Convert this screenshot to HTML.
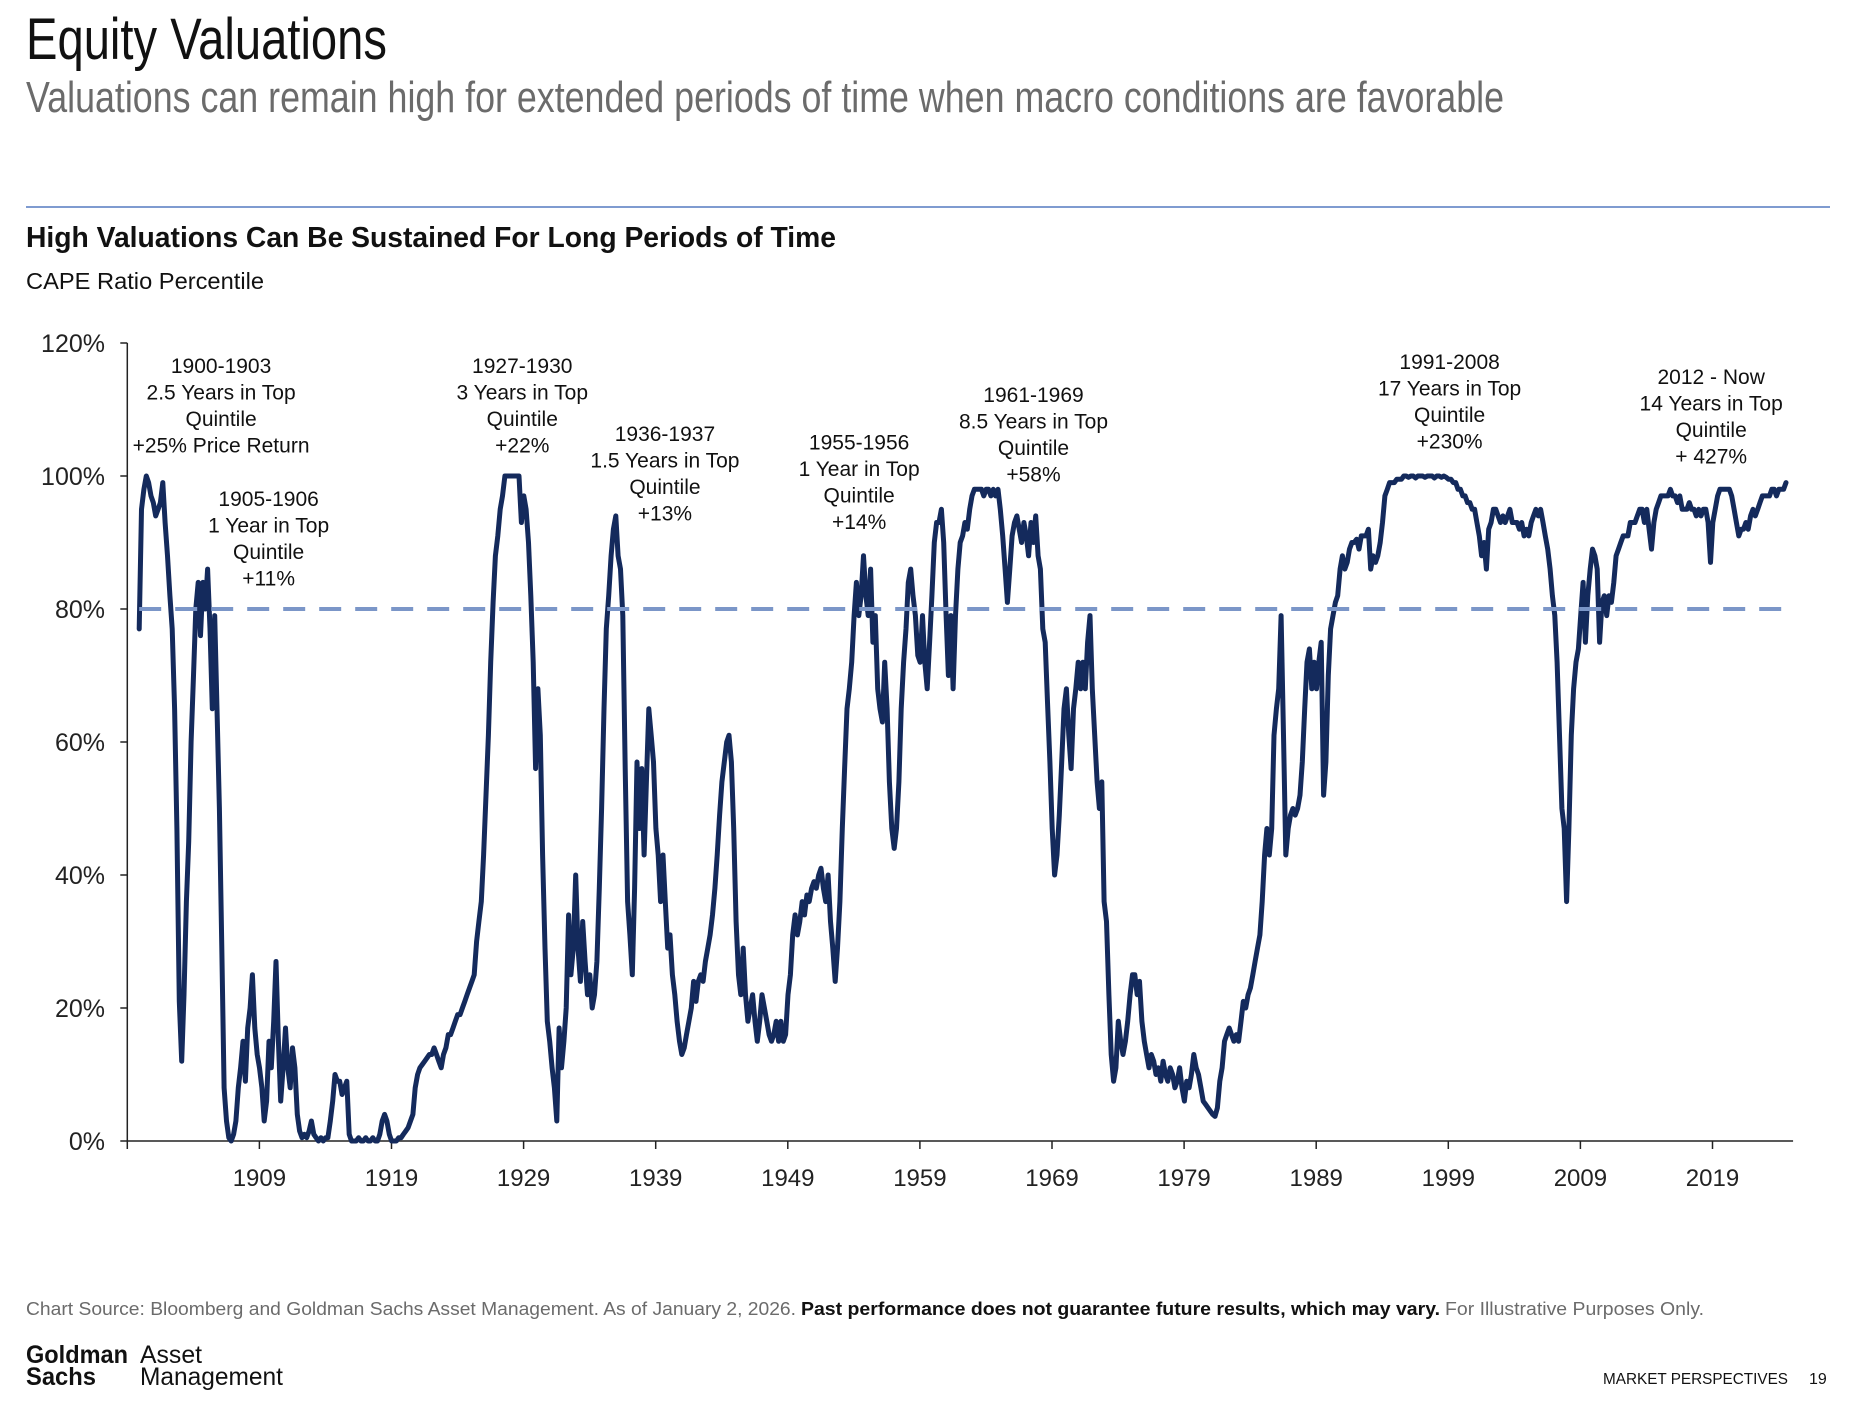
<!DOCTYPE html>
<html><head><meta charset="utf-8"><style>
html,body{margin:0;padding:0;background:#fff;width:1854px;height:1408px;overflow:hidden}
svg text{font-family:"Liberation Sans",sans-serif}
</style></head><body>
<svg id="page" width="1854" height="1408" viewBox="0 0 1854 1408" xmlns="http://www.w3.org/2000/svg">
<text x="26" y="59" font-size="58" fill="#111" textLength="361" lengthAdjust="spacingAndGlyphs">Equity Valuations</text>
<text x="26" y="112" font-size="44" fill="#6b6b6b" textLength="1478" lengthAdjust="spacingAndGlyphs">Valuations can remain high for extended periods of time when macro conditions are favorable</text>
<line x1="26" y1="207" x2="1830" y2="207" stroke="#7f9bd0" stroke-width="2"/>
<text x="26" y="247" font-size="29" font-weight="bold" fill="#111" textLength="810" lengthAdjust="spacingAndGlyphs">High Valuations Can Be Sustained For Long Periods of Time</text>
<text x="26" y="289" font-size="23" fill="#111" textLength="238" lengthAdjust="spacingAndGlyphs">CAPE Ratio Percentile</text>
<g id="chart"></g>
<g id="notes"></g>
<text x="26" y="1315" font-size="18" fill="#6b6b6b" textLength="770" lengthAdjust="spacingAndGlyphs">Chart Source: Bloomberg and Goldman Sachs Asset Management. As of January 2, 2026.</text>
<text x="801" y="1315" font-size="18" font-weight="bold" fill="#111" textLength="639" lengthAdjust="spacingAndGlyphs">Past performance does not guarantee future results, which may vary.</text>
<text x="1445" y="1315" font-size="18" fill="#6b6b6b" textLength="259" lengthAdjust="spacingAndGlyphs">For Illustrative Purposes Only.</text>
<g font-family="Liberation Serif, serif" fill="#111">
<text x="26" y="1363" font-size="25" font-weight="bold" font-family="Liberation Serif, serif" textLength="102" lengthAdjust="spacingAndGlyphs">Goldman</text>
<text x="26" y="1385" font-size="25" font-weight="bold" font-family="Liberation Serif, serif" textLength="70" lengthAdjust="spacingAndGlyphs">Sachs</text>
<text x="140" y="1363" font-size="25" font-family="Liberation Serif, serif" textLength="62" lengthAdjust="spacingAndGlyphs">Asset</text>
<text x="140" y="1385" font-size="25" font-family="Liberation Serif, serif" textLength="143" lengthAdjust="spacingAndGlyphs">Management</text>
</g>
<text x="1603" y="1384" font-size="16" fill="#111" textLength="185" lengthAdjust="spacingAndGlyphs">MARKET PERSPECTIVES</text>
<text x="1809" y="1384" font-size="16" fill="#111">19</text>
</svg>
<script>
const startYear = 1899.9;
const stepYears = 0.1786;
const values = [77,95,98,100,99,97,96,94,95,96,99,93,88,82,77,65,47,21,12,22,36,45,60,70,80,84,76,84,80,86,77,65,79,65,50,29,8,3,0.5,0,1,3,8,11,15,9,17,20,25,17,13,11,8,3,6,15,11,18,27,15,6,11,17,11,8,14,11,4,1.5,0.5,1,0.5,1.5,3,1,0.5,0,0.5,0,0.5,0.5,3,6,10,9,9,7,8,9,1,0,0,0,0.5,0,0,0.5,0,0,0.5,0,0,1,3,4,3,1,0,0,0,0.5,0.5,1,1.5,2,3,4,8,10,11,11.5,12,12.5,13,13,14,13,12,11,13,14,16,16,17,18,19,19,20,21,22,23,24,25,30,33,36,43,52,61,72,81,88,91,95,97,100,100,100,100,100,100,100,93,97,95,90,82,72,56,68,61,43,29,18,15,11,8,3,17,11,15,20,34,25,29,40,29,24,33,27,22,25,20,22,27,38,50,65,77,82,88,92,94,88,86,79,56,36,31,25,38,57,47,56,43,54,65,61,57,47,43,36,43,36,29,31,25,22,18,15,13,14,16,18,20,24,21,24,25,24,27,29,31,34,38,43,49,54,57,60,61,57,47,33,25,22,29,22,18,20,22,18,15,18,22,20,18,16,15,16,18,15,18,15,16,22,25,31,34,31,33,36,34,37,36,38,39,38,40,41,38,36,40,33,29,24,29,36,47,56,65,68,72,79,84,79,82,88,82,79,86,75,79,68,65,63,72,65,54,47,44,47,54,65,72,77,84,86,82,79,73,72,79,72,68,75,82,90,93,93,95,90,79,70,79,68,79,86,90,91,93,92,95,97,98,98,98,98,97,98,98,97,98,97,98,95,91,86,81,86,91,93,94,92,90,93,91,88,93,90,94,88,86,77,75,66,57,47,40,43,49,57,65,68,61,56,65,68,72,68,72,68,75,79,68,61,54,50,54,36,33,22,13,9,11,18,15,13,15,18,22,25,25,22,24,18,15,13,11,13,12,10,11,9,12,10,9,11,10,8,9,11,8,6,9,8,10,13,11,10,8,6,5.5,5,4.5,4,3.7,5,9,11,15,16,17,16,15,16,15,18,21,20,22,23,25,27,29,31,36,43,47,43,47,61,65,68,79,61,43,47,49,50,49,50,52,57,65,72,74,68,72,68,72,75,52,57,70,77,79,81,82,86,88,86,87,89,90,90,90.5,89,91,91,91,92,86,88,87,88,90,93,97,98,99,99,99,99.5,99.5,99.5,100,100,99.8,100,100,99.7,100,100,100,99.8,100,100,100,99.7,100,100,99.8,100,99.8,99.5,99.5,99,99,98,98,97,97,96,96,95,95,93,91,88,90,86,92,93,95,95,94,93,94,93,94,95,93,93,93,92,93,91,92,91,93,94,95,94,95,93,91,89,86,82,79,72,61,50,47,36,47,61,68,72,74,79,84,75,82,86,89,88,86,75,81,82,79,82,81,84,88,89,90,91,91,91,93,93,93,94,95,95,93,95,92,89,93,95,96,97,97,97,97,98,97,97,96,97,95,95,95,96,95,95,94,95,94,95,95,93,87,93,95,97,98,98,98,98,98,97,95,93,91,92,92,93,92,94,95,94,95,96,97,97,97,97,98,98,97,98,98,98,99];
const xTickYears = [1909,1919,1929,1939,1949,1959,1969,1979,1989,1999,2009,2019];
const yTickValues = [0,20,40,60,80,100,120];
const yTickLabels = ["0%","20%","40%","60%","80%","100%","120%"];
const thresholdValue = [80];
const noteCenters = [1906.1, 1909.7, 1928.9, 1939.7, 1954.4, 1967.6, 1999.1, 2018.9];
const noteTexts = [
 ["1900-1903","2.5 Years in Top","Quintile","+25% Price Return"],
 ["1905-1906","1 Year in Top","Quintile","+11%"],
 ["1927-1930","3 Years in Top","Quintile","+22%"],
 ["1936-1937","1.5 Years in Top","Quintile","+13%"],
 ["1955-1956","1 Year in Top","Quintile","+14%"],
 ["1961-1969","8.5 Years in Top","Quintile","+58%"],
 ["1991-2008","17 Years in Top","Quintile","+230%"],
 ["2012 - Now","14 Years in Top","Quintile","+ 427%"]
];
const noteTopValues = [115.5, 95.5, 115.5, 105.3, 104.0, 111.1, 116.1, 113.8];

const NS = "http://www.w3.org/2000/svg";
const X0 = 259.4, PXY = 13.21, Y0 = 1141, PXV = 6.65;
const xScale = yr => X0 + (yr - 1909) * PXY;
const yScale = v => Y0 - v * PXV;
const axisLeft = xScale(1899), axisRight = xScale(2025.1);
const chart = document.getElementById('chart');
function mk(tag, attrs, parent){ const e=document.createElementNS(NS,tag); for(const k in attrs) e.setAttribute(k,attrs[k]); (parent||chart).appendChild(e); return e; }

const yAxis = mk('line',{x1:axisLeft,y1:yScale(120),x2:axisLeft,y2:yScale(0),stroke:'#222','stroke-width':1.5});


const xAxis = mk('line',{x1:axisLeft,y1:yScale(0),x2:axisRight,y2:yScale(0),stroke:'#222','stroke-width':1.5});


yTickValues.forEach((v,i)=>{
  const t = mk('line',{x1:axisLeft-7,y1:yScale(v),x2:axisLeft,y2:yScale(v),stroke:'#222','stroke-width':1.5});
  
  
  const l = mk('text',{x:105,y:yScale(v)+9,'font-size':25,'text-anchor':'end',fill:'#222'});
  l.textContent = yTickLabels[i];
  
  
});
const tk0 = mk('line',{x1:axisLeft,y1:yScale(0),x2:axisLeft,y2:yScale(0)+8,stroke:'#222','stroke-width':1.5});


xTickYears.forEach(yr=>{
  const t = mk('line',{x1:xScale(yr),y1:yScale(0),x2:xScale(yr),y2:yScale(0)+8,stroke:'#222','stroke-width':1.5});
  
  
  const l = mk('text',{x:xScale(yr),y:1186,'font-size':24,'text-anchor':'middle',fill:'#222'});
  l.textContent = String(yr);
  
  
});
let d = '';
values.forEach((v,i)=>{ const yr = startYear + i*stepYears; d += (i?'L':'M') + xScale(yr).toFixed(1) + ',' + yScale(v).toFixed(1); });
const line = mk('path',{d:d,fill:'none',stroke:'#142a5c','stroke-width':5,'stroke-linejoin':'round','stroke-linecap':'round'});


const th = mk('line',{x1:xScale(startYear),y1:yScale(thresholdValue[0]),x2:axisRight,y2:yScale(thresholdValue[0]),stroke:'#7b96c8','stroke-width':4,'stroke-dasharray':'22 14'});


const notes = document.getElementById('notes');
noteTexts.forEach((lines,i)=>{
  const g = mk('g',{},notes);
  
  
  lines.forEach((s,j)=>{
    const t = mk('text',{x:xScale(noteCenters[i]),y:yScale(noteTopValues[i])+j*26.5,'font-size':21,'text-anchor':'middle',fill:'#111'},g);
    t.textContent = s;
  });
});
</script>
</body></html>
